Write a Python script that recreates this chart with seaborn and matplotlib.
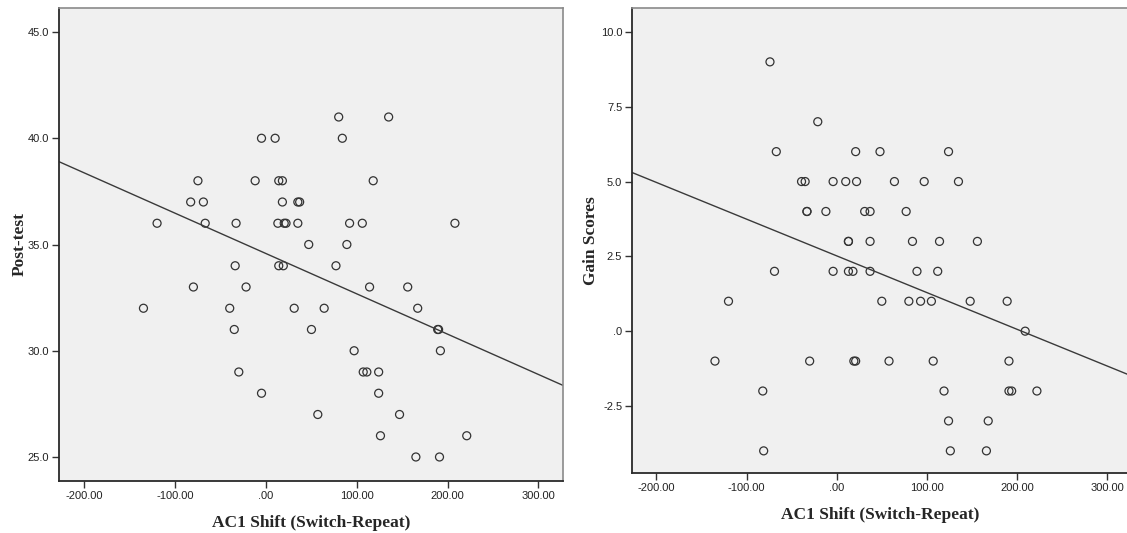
import numpy as np
import pandas as pd
import matplotlib
matplotlib.use("Agg")
import matplotlib.pyplot as plt
import seaborn as sns

# values
post_shift = [80, 135,
              -5, 10, 84,
              -75, -12, 14, 18, 118,
              -83, -69, 18, 35, 37,
              -120, -67, -33, 13, 20, 22, 35, 92, 106, 208,
              47, 89,
              -34, 14, 19, 77,
              -80, -22, 114, 156,
              -135, -40, 31, 64, 167,
              -35, 50, 189, 190,
              97, 192,
              -30, 107, 111, 124,
              -5, 124,
              57, 147,
              126, 221,
              165, 191]
post_test = [41, 41,
             40, 40, 40,
             38, 38, 38, 38, 38,
             37, 37, 37, 37, 37,
             36, 36, 36, 36, 36, 36, 36, 36, 36, 36,
             35, 35,
             34, 34, 34, 34,
             33, 33, 33, 33,
             32, 32, 32, 32, 32,
             31, 31, 31, 31,
             30, 30,
             29, 29, 29, 29,
             28, 28,
             27, 27,
             26, 26,
             25, 25]

gain_shift = [-74,
              -21,
              -67, 21, 48, 124,
              -39, -35, -4, 10, 22, 64, 97, 135,
              -33, -33, -12, 31, 37, 77,
              13, 13, 37, 84, 114, 156,
              -69, -4, 13, 18, 37, 89, 112,
              -120, 50, 80, 93, 105, 148, 189,
              209,
              -135, -30, 19, 21, 58, 107, 191,
              -82, 119, 191, 194, 222,
              124, 168,
              -81, 126, 166]
gain_scores = [9,
               7,
               6, 6, 6, 6,
               5, 5, 5, 5, 5, 5, 5, 5,
               4, 4, 4, 4, 4, 4,
               3, 3, 3, 3, 3, 3,
               2, 2, 2, 2, 2, 2, 2,
               1, 1, 1, 1, 1, 1, 1,
               0,
               -1, -1, -1, -1, -1, -1, -1,
               -2, -2, -2, -2, -2,
               -3, -3,
               -4, -4, -4]

x_ticks = [-200, -100, 0, 100, 200, 300]
x_ticklabels = ["-200.00", "-100.00", ".00", "100.00", "200.00", "300.00"]
post_ticks = [25, 30, 35, 40, 45]
post_ticklabels = ["25.0", "30.0", "35.0", "40.0", "45.0"]
gain_ticks = [-2.5, 0, 2.5, 5, 7.5, 10]
gain_ticklabels = ["-2.5", ".0", "2.5", "5.0", "7.5", "10.0"]

sns.set_theme(style="white")
plt.rcParams['font.family'] = ['Liberation Sans Narrow', 'Liberation Sans', 'DejaVu Sans']

fig = plt.figure(figsize=(11.27, 5.33), dpi=100)
ax1 = fig.add_axes([59 / 1127, 52 / 533, 504 / 1127, 473 / 533])
ax2 = fig.add_axes([632 / 1127, 60 / 533, 496 / 1127, 465 / 533])

left_df = pd.DataFrame({"shift": post_shift, "post": post_test})
right_df = pd.DataFrame({"shift": gain_shift, "gain": gain_scores})

panels = [
    (ax1, left_df, "post", "Post-test", (-228, 327), (23.87, 46.13),
     post_ticks, post_ticklabels),
    (ax2, right_df, "gain", "Gain Scores", (-227, 323), (-4.74, 10.8),
     gain_ticks, gain_ticklabels),
]

for ax, df, ycol, ylabel, xlim, ylim, yt, ytl in panels:
    ax.set_facecolor("#f0f0f0")
    ax.set_xlim(*xlim)
    ax.set_ylim(*ylim)
    # fit line drawn across the full x range, like SPSS does
    sns.regplot(data=df, x="shift", y=ycol, ax=ax, scatter=False, ci=None,
                truncate=False, line_kws={"color": "#3a3a3a", "linewidth": 1.0})
    sns.scatterplot(data=df, x="shift", y=ycol, ax=ax, marker="o", s=33,
                    facecolors="none", edgecolor="#333333", linewidth=0.9)
    ax.set_xlim(*xlim)
    ax.set_ylim(*ylim)

    ax.set_xticks(x_ticks)
    ax.set_xticklabels(x_ticklabels)
    ax.set_yticks(yt)
    ax.set_yticklabels(ytl)
    ax.tick_params(axis="both", which="major", direction="out", length=5,
                   width=1, color="#333333", labelsize=8, labelcolor="#222222",
                   pad=2, bottom=True, left=True)

    for side in ["left", "bottom"]:
        ax.spines[side].set_color("#2a2a2a")
        ax.spines[side].set_linewidth(1.3)
    for side in ["top", "right"]:
        ax.spines[side].set_color("#8a8a8a")
        ax.spines[side].set_linewidth(1.2)

    ax.set_xlabel("AC1 Shift (Switch-Repeat)", fontsize=12.5, fontweight="bold",
                  family=["Liberation Serif"])
    ax.set_ylabel(ylabel, fontsize=12.5, fontweight="bold",
                  family=["Liberation Serif"])
    ax.xaxis.label.set_va("center")
    ax.yaxis.label.set_va("center")
    ax.grid(False)

ax2.spines["right"].set_visible(False)

ax1.xaxis.set_label_coords(0.5, -0.089)
ax1.yaxis.set_label_coords(-0.078, 0.5)
ax2.xaxis.set_label_coords(0.5, -0.090)
ax2.yaxis.set_label_coords(-0.083, 0.5)

fig.savefig("out.png", dpi=100)
